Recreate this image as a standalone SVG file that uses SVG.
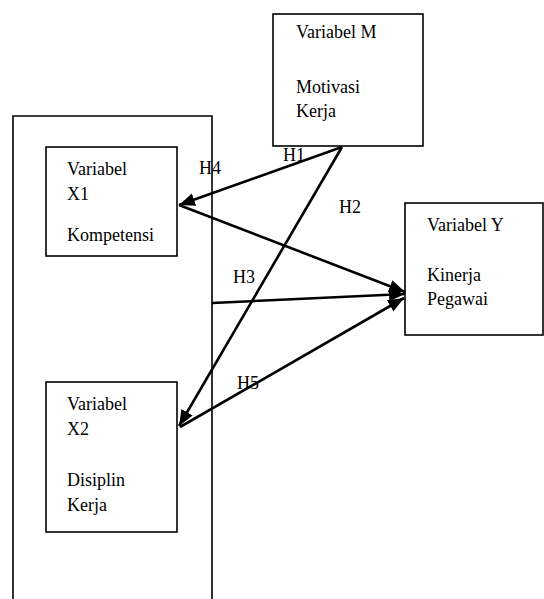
<svg xmlns="http://www.w3.org/2000/svg" width="544" height="599" viewBox="0 0 544 599">
<style>
.box{fill:#fff;stroke:#000;stroke-width:1.6}
.frame{fill:none;stroke:#000;stroke-width:1.6}
.t{font-family:"Liberation Serif","Times New Roman",serif;font-size:18px;fill:#000}
.c{fill:none;stroke:#000;stroke-width:2.6}
</style>
<defs>
<marker id="ah" markerUnits="userSpaceOnUse" markerWidth="18" markerHeight="14" refX="16" refY="6.5" orient="auto">
<path d="M0,0 L16,6.5 L0,13 Z" fill="#000"/>
</marker>
</defs>
<g id="frame"><path class="frame" d="M13,599 V116 H212 V599"/></g>
<g id="nodeM">
<rect class="box" x="273" y="14" width="150" height="132"/>
<text class="t" x="296" y="38">Variabel M</text>
<text class="t" x="296" y="93">Motivasi</text>
<text class="t" x="296" y="117">Kerja</text>
</g>
<g id="nodeX1">
<rect class="box" x="46" y="147" width="131" height="109"/>
<text class="t" x="67" y="175">Variabel</text>
<text class="t" x="67" y="200">X1</text>
<text class="t" x="67" y="241">Kompetensi</text>
</g>
<g id="nodeX2">
<rect class="box" x="46" y="382" width="131" height="150"/>
<text class="t" x="67" y="410">Variabel</text>
<text class="t" x="67" y="435">X2</text>
<text class="t" x="67" y="486">Disiplin</text>
<text class="t" x="67" y="511">Kerja</text>
</g>
<g id="nodeY">
<rect class="box" x="405" y="203" width="138" height="132"/>
<text class="t" x="427" y="231">Variabel Y</text>
<text class="t" x="427" y="281">Kinerja</text>
<text class="t" x="427" y="305">Pegawai</text>
</g>
<g id="connectors">
<line class="c" x1="342" y1="147" x2="179" y2="205" marker-end="url(#ah)"/>
<line class="c" x1="342" y1="147" x2="179" y2="426" marker-end="url(#ah)"/>
<line class="c" x1="179" y1="205" x2="405" y2="292" marker-end="url(#ah)"/>
<line class="c" x1="212" y1="303" x2="405" y2="294" marker-end="url(#ah)"/>
<line class="c" x1="180" y1="427" x2="404" y2="298" marker-end="url(#ah)"/>
</g>
<g id="labels">
<text class="t" x="199" y="174">H4</text>
<text class="t" x="283" y="161">H1</text>
<text class="t" x="339" y="213">H2</text>
<text class="t" x="233" y="283">H3</text>
<text class="t" x="237" y="389">H5</text>
</g>
</svg>
